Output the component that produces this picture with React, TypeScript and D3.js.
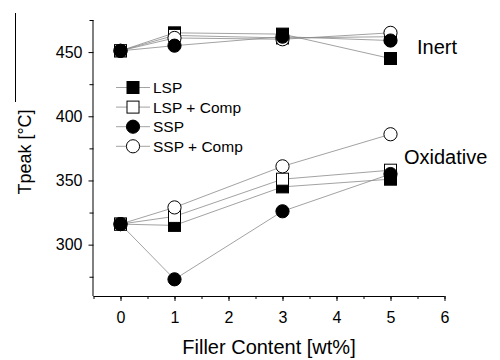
import * as d3 from "d3";
import { useEffect, useRef } from "react";

// filler content (wt%)
const xValues = [0, 1, 3, 5];

// peak temperature, inert atmosphere
const lspInert = [451, 465, 464, 445];
const lspCompInert = [451, 463, 461, 462];
const sspInert = [451, 455, 462, 459];
const sspCompInert = [451, 461, 460, 465];

// peak temperature, oxidative atmosphere
const lspOx = [316, 315, 345, 351];
const lspCompOx = [316, 322, 351, 358];
const sspOx = [316, 273, 326, 355];
const sspCompOx = [316, 329, 361, 386];

const xTicks = [0, 1, 2, 3, 4, 5, 6];
const yTicks = [300, 350, 400, 450];

const legendNames = ["LSP", "LSP + Comp", "SSP", "SSP + Comp"];

type Marker = "fsq" | "osq" | "fci" | "oci";

interface Series {
  name: string;
  marker: Marker;
  inert: number[];
  ox: number[];
}

// draw order as seen in the picture (filled circle on top)
const series: Series[] = [
  { name: "LSP", marker: "fsq", inert: lspInert, ox: lspOx },
  { name: "LSP + Comp", marker: "osq", inert: lspCompInert, ox: lspCompOx },
  { name: "SSP + Comp", marker: "oci", inert: sspCompInert, ox: sspCompOx },
  { name: "SSP", marker: "fci", inert: sspInert, ox: sspOx },
];
const legendMarkers: Marker[] = ["fsq", "osq", "fci", "oci"];

const App = () => {
  const svgRef = useRef(null);
  const width = 500;
  const height = 360;

  const marginLeft = 93.5;
  const marginRight = 55.5;
  const marginTop = 20;
  const marginBottom = 64;

  const x = d3.scaleLinear().domain([-0.5, 6]).range([marginLeft, width - marginRight]);
  const y = d3.scaleLinear().domain([260, 475]).range([height - marginBottom, marginTop]);

  useEffect(() => {
    const svg = d3.select(svgRef.current);
    svg.selectAll("*").remove();
    const font = "'Liberation Sans', Arial, sans-serif";

    // x axis
    svg
      .append("g")
      .attr("transform", `translate(0,${height - marginBottom})`)
      .call(d3.axisBottom(x).tickValues(d3.range(-0.5, 6.01, 0.5)).tickSize(3).tickFormat(() => ""))
      .call(g => g.select(".domain").remove())
      .call(g => g.selectAll(".tick line").attr("stroke", "#000"));
    svg
      .append("g")
      .attr("transform", `translate(0,${height - marginBottom})`)
      .call(d3.axisBottom(x).tickValues(xTicks).tickFormat(d3.format("d")).tickSize(5).tickPadding(11).tickSizeOuter(0))
      .call(g => g.select(".domain").attr("stroke", "#000").attr("d", `M${x(-0.5)},0.5H${x(6)}`))
      .call(g =>
        g.selectAll(".tick text").attr("font-size", 16).attr("font-family", font).attr("fill", "#000")
      );

    // y axis
    svg
      .append("g")
      .attr("transform", `translate(${marginLeft},0)`)
      .call(d3.axisLeft(y).tickValues([275, 325, 375, 425, 475]).tickSize(4).tickFormat(() => ""))
      .call(g => g.select(".domain").remove());
    svg
      .append("g")
      .attr("transform", `translate(${marginLeft},0)`)
      .call(d3.axisLeft(y).tickValues(yTicks).tickSize(5).tickPadding(6).tickSizeOuter(0))
      .call(g => g.select(".domain").attr("d", `M-0.5,${y(475)}V${y(260)}`))
      .call(g =>
        g.selectAll(".tick text").attr("font-size", 16).attr("font-family", font).attr("fill", "#000")
      );

    const line = d3
      .line<number>()
      .x((_d, i) => x(xValues[i]))
      .y(d => y(d));

    // connecting lines first
    series.forEach(s => {
      [s.inert, s.ox].forEach(vals => {
        svg
          .append("path")
          .datum(vals)
          .attr("fill", "none")
          .attr("stroke", "#8a8a8a")
          .attr("stroke-width", 0.8)
          .attr("d", line);
      });
    });

    const drawMarker = (g: any, m: Marker, cx: number, cy: number) => {
      if (m === "fsq" || m === "osq") {
        g.append("rect")
          .attr("x", cx - 6)
          .attr("y", cy - 6)
          .attr("width", 12)
          .attr("height", 12)
          .attr("fill", m === "fsq" ? "#000" : "#fff")
          .attr("stroke", "#000")
          .attr("stroke-width", 1);
      } else {
        g.append("circle")
          .attr("cx", cx)
          .attr("cy", cy)
          .attr("r", 6.6)
          .attr("fill", m === "fci" ? "#000" : "#fff")
          .attr("stroke", "#000")
          .attr("stroke-width", 1);
      }
    };

    // markers per series
    series.forEach(s => {
      const g = svg.append("g");
      [s.inert, s.ox].forEach(vals => {
        vals.forEach((v, i) => drawMarker(g, s.marker, x(xValues[i]), y(v)));
      });
    });

    // legend
    const legend = svg.append("g");
    legendNames.forEach((name, i) => {
      const ly = 87.5 + i * 19.6;
      legend
        .append("line")
        .attr("x1", 116)
        .attr("x2", 150)
        .attr("y1", ly)
        .attr("y2", ly)
        .attr("stroke", "#8a8a8a")
        .attr("stroke-width", 0.8);
      drawMarker(legend, legendMarkers[i], 133, ly);
      legend
        .append("text")
        .attr("x", 153)
        .attr("y", ly + 5.5)
        .attr("font-size", 15.5)
        .attr("font-family", font)
        .text(name);
    });

    // annotations
    svg
      .append("text")
      .attr("x", 417)
      .attr("y", 54)
      .attr("font-size", 20)
      .attr("font-family", font)
      .text("Inert");
    svg
      .append("text")
      .attr("x", 404)
      .attr("y", 164)
      .attr("font-size", 20)
      .attr("font-family", font)
      .text("Oxidative");

    // axis titles
    svg
      .append("text")
      .attr("x", x(2.75))
      .attr("y", 354)
      .attr("text-anchor", "middle")
      .attr("font-size", 20)
      .attr("font-family", font)
      .text("Filler Content [wt%]");
    svg
      .append("text")
      .attr("transform", `translate(31,152) rotate(-90)`)
      .attr("text-anchor", "middle")
      .attr("font-size", 18)
      .attr("font-family", font)
      .text("Tpeak [°C]");
    svg
      .append("line")
      .attr("x1", 15.5)
      .attr("x2", 15.5)
      .attr("y1", 13)
      .attr("y2", 102)
      .attr("stroke", "#000")
      .attr("stroke-width", 1);
  }, []);

  return (
    <div style={{ position: "absolute", left: 0, top: 0 }}>
      <svg ref={svgRef} width={width} height={height} style={{ display: "block", background: "#fff" }}></svg>
    </div>
  );
};

export default App;
